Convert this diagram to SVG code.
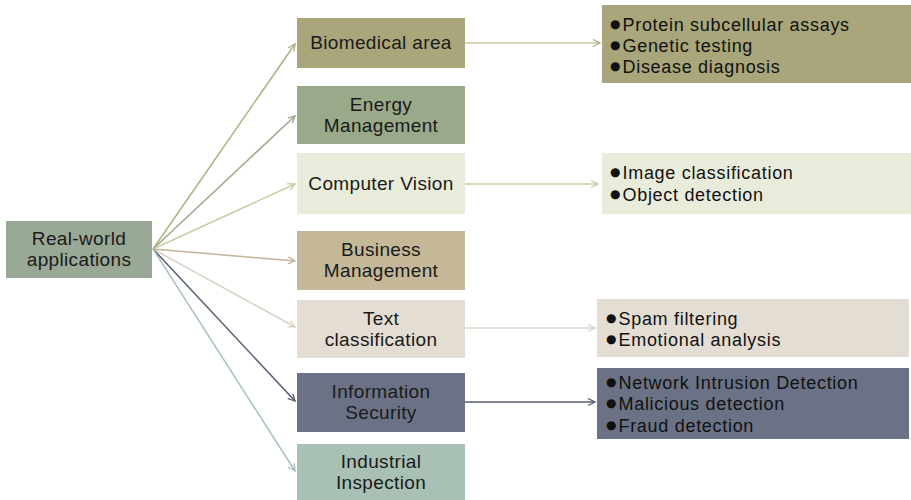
<svg xmlns="http://www.w3.org/2000/svg" width="911" height="500" viewBox="0 0 911 500">
  <style>
    .lbl { font-family: "Liberation Sans", Arial, sans-serif; font-size: 19px; letter-spacing: 0.35px; fill: #1a1a1a; text-anchor: middle; }
    .item { font-family: "Liberation Sans", Arial, sans-serif; font-size: 18px; letter-spacing: 0.7px; fill: #111; }
    .dot { font-family: "DejaVu Sans", sans-serif; font-size: 12px; letter-spacing: 2px; baseline-shift: 3px; }
    .conn { fill: none; stroke-width: 1.5; }
  </style>
  <defs>
    <marker id="ah-olive" markerWidth="10" markerHeight="10" refX="8" refY="4" orient="auto" markerUnits="userSpaceOnUse"><path d="M1,0.5 L8,4 L1,7.5" fill="none" stroke="#b1ae7e" stroke-width="1.3"/></marker>
    <marker id="ah-green" markerWidth="10" markerHeight="10" refX="8" refY="4" orient="auto" markerUnits="userSpaceOnUse"><path d="M1,0.5 L8,4 L1,7.5" fill="none" stroke="#98a889" stroke-width="1.3"/></marker>
    <marker id="ah-pale" markerWidth="10" markerHeight="10" refX="8" refY="4" orient="auto" markerUnits="userSpaceOnUse"><path d="M1,0.5 L8,4 L1,7.5" fill="none" stroke="#c9cca6" stroke-width="1.3"/></marker>
    <marker id="ah-tan" markerWidth="10" markerHeight="10" refX="8" refY="4" orient="auto" markerUnits="userSpaceOnUse"><path d="M1,0.5 L8,4 L1,7.5" fill="none" stroke="#c3b698" stroke-width="1.3"/></marker>
    <marker id="ah-sand" markerWidth="10" markerHeight="10" refX="8" refY="4" orient="auto" markerUnits="userSpaceOnUse"><path d="M1,0.5 L8,4 L1,7.5" fill="none" stroke="#d8d1c6" stroke-width="1.3"/></marker>
    <marker id="ah-slate" markerWidth="10" markerHeight="10" refX="8" refY="4" orient="auto" markerUnits="userSpaceOnUse"><path d="M1,0.5 L8,4 L1,7.5" fill="none" stroke="#565d72" stroke-width="1.3"/></marker>
    <marker id="ah-teal" markerWidth="10" markerHeight="10" refX="8" refY="4" orient="auto" markerUnits="userSpaceOnUse"><path d="M1,0.5 L8,4 L1,7.5" fill="none" stroke="#a6bfc0" stroke-width="1.3"/></marker>
  </defs>

  <rect width="911" height="500" fill="#ffffff"/>

  <!-- connectors -->
  <g id="connectors">
    <line class="conn" x1="153" y1="249" x2="295" y2="44" stroke="#b1ae7e" marker-end="url(#ah-olive)"/>
    <line class="conn" x1="153" y1="249" x2="295" y2="116" stroke="#98a889" marker-end="url(#ah-green)"/>
    <line class="conn" x1="153" y1="249" x2="295" y2="184" stroke="#c9cca6" marker-end="url(#ah-pale)"/>
    <line class="conn" x1="153" y1="249" x2="295" y2="261" stroke="#c3b698" marker-end="url(#ah-tan)"/>
    <line class="conn" x1="153" y1="249" x2="295" y2="327" stroke="#d8d1c6" marker-end="url(#ah-sand)"/>
    <line class="conn" x1="153" y1="249" x2="295" y2="401" stroke="#565d72" marker-end="url(#ah-slate)"/>
    <line class="conn" x1="153" y1="249" x2="295" y2="471" stroke="#a6bfc0" marker-end="url(#ah-teal)"/>

    <line class="conn" x1="465" y1="43" x2="600" y2="43" stroke="#cac7a3" marker-end="url(#ah-olive)"/>
    <line class="conn" x1="465" y1="184" x2="598" y2="184" stroke="#c9cca6" marker-end="url(#ah-pale)"/>
    <line class="conn" x1="465" y1="328" x2="595" y2="328" stroke="#ddd7cd" marker-end="url(#ah-sand)"/>
    <line class="conn" x1="465" y1="402" x2="595" y2="402" stroke="#565d72" marker-end="url(#ah-slate)"/>
  </g>

  <!-- root -->
  <g id="root">
    <rect x="6" y="221" width="146" height="57" fill="#9aa896"/>
    <text class="lbl" x="79" y="245">Real-world</text>
    <text class="lbl" x="79" y="266">applications</text>
  </g>

  <!-- application areas -->
  <g id="biomedical">
    <rect x="297" y="18" width="168" height="50" fill="#a8a67a"/>
    <text class="lbl" x="381" y="49">Biomedical area</text>
  </g>
  <g id="energy">
    <rect x="297" y="86" width="168" height="58" fill="#99a98a"/>
    <text class="lbl" x="381" y="111">Energy</text>
    <text class="lbl" x="381" y="132">Management</text>
  </g>
  <g id="vision">
    <rect x="297" y="153" width="168" height="61" fill="#e9ecda"/>
    <text class="lbl" x="381" y="190">Computer Vision</text>
  </g>
  <g id="business">
    <rect x="297" y="231" width="168" height="59" fill="#c4b898"/>
    <text class="lbl" x="381" y="256">Business</text>
    <text class="lbl" x="381" y="277">Management</text>
  </g>
  <g id="text-cls">
    <rect x="297" y="300" width="168" height="58" fill="#e3ddd3"/>
    <text class="lbl" x="381" y="325">Text</text>
    <text class="lbl" x="381" y="346">classification</text>
  </g>
  <g id="infosec">
    <rect x="297" y="373" width="168" height="59" fill="#6b7285"/>
    <text class="lbl" x="381" y="398">Information</text>
    <text class="lbl" x="381" y="419">Security</text>
  </g>
  <g id="industrial">
    <rect x="297" y="444" width="168" height="56" fill="#a9c1b5"/>
    <text class="lbl" x="381" y="468">Industrial</text>
    <text class="lbl" x="381" y="489">Inspection</text>
  </g>

  <!-- detail lists -->
  <g id="biomedical-items">
    <rect x="602" y="5" width="309" height="78" fill="#a8a67a"/>
    <text class="item" x="610" y="31"><tspan class="dot">●</tspan>Protein subcellular assays</text>
    <text class="item" x="610" y="52"><tspan class="dot">●</tspan>Genetic testing</text>
    <text class="item" x="610" y="73"><tspan class="dot">●</tspan>Disease diagnosis</text>
  </g>
  <g id="vision-items">
    <rect x="602" y="153" width="309" height="61" fill="#e9ecda"/>
    <text class="item" x="610" y="179"><tspan class="dot">●</tspan>Image classification</text>
    <text class="item" x="610" y="201"><tspan class="dot">●</tspan>Object detection</text>
  </g>
  <g id="text-items">
    <rect x="597" y="299" width="312" height="58" fill="#e3ddd3"/>
    <text class="item" x="606" y="325"><tspan class="dot">●</tspan>Spam filtering</text>
    <text class="item" x="606" y="346"><tspan class="dot">●</tspan>Emotional analysis</text>
  </g>
  <g id="infosec-items">
    <rect x="597" y="368" width="312" height="71" fill="#6b7285"/>
    <text class="item" x="606" y="389"><tspan class="dot">●</tspan>Network Intrusion Detection</text>
    <text class="item" x="606" y="410"><tspan class="dot">●</tspan>Malicious detection</text>
    <text class="item" x="606" y="432"><tspan class="dot">●</tspan>Fraud detection</text>
  </g>
</svg>
